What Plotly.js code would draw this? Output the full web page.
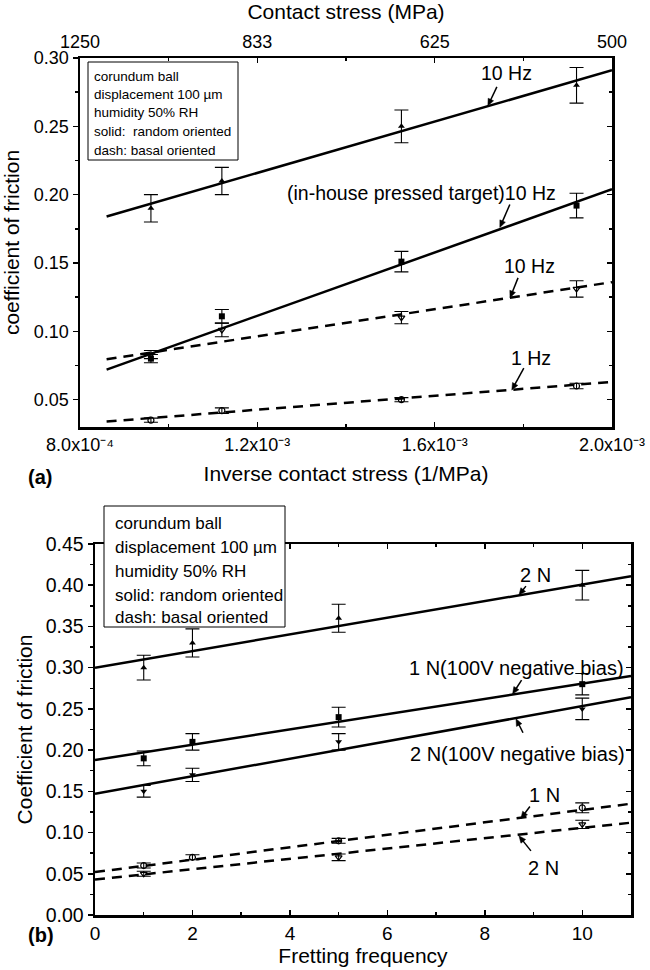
<!DOCTYPE html>
<html>
<head>
<meta charset="utf-8">
<script src="https://cdn.plot.ly/plotly-3.0.1.min.js"></script>
<style>html,body{margin:0;padding:0;background:#fff;}#chart{width:650px;height:970px;}</style>
</head>
<body>
<div id="chart"></div>
<script>
// ---------- Panel (a): inverse contact stress ----------
const invStress = [0.96e-3, 1.12e-3, 1.525e-3, 1.92e-3];
const random10Hz = [0.19, 0.21, 0.25, 0.28];
const random10HzErr = [0.01, 0.01, 0.012, 0.013];
const pressed10Hz = [0.08, 0.111, 0.151, 0.192];
const pressed10HzErr = [0.003, 0.005, 0.0075, 0.009];
const basal10Hz = [0.083, 0.101, 0.11, 0.131];
const basal10HzErr = [0.003, 0.005, 0.0045, 0.006];
const basal1Hz = [0.035, 0.042, 0.05, 0.06];
const basal1HzErr = [0.0015, 0.002, 0.0015, 0.002];
const fitInvX = [0.86e-3, 2.0e-3];
const fitRandom10Hz = [0.184, 0.291];
const fitPressed10Hz = [0.072, 0.204];
const fitBasal10Hz = [0.0795, 0.136];
const fitBasal1Hz = [0.034, 0.063];
const invTickVals = [8e-4, 1.2e-3, 1.6e-3, 2.0e-3];
const invTickText = ['8.0x10⁻⁴', '1.2x10⁻³', '1.6x10⁻³', '2.0x10⁻³'];
const stressTickText = ['1250', '833', '625', '500'];

// ---------- Panel (b): fretting frequency ----------
const freq = [1, 2, 5, 10];
const load2N = [0.30, 0.33, 0.36, 0.40];
const load2NErr = [0.015, 0.017, 0.017, 0.018];
const load1NBias = [0.19, 0.21, 0.24, 0.28];
const load1NBiasErr = [0.009, 0.01, 0.012, 0.013];
const load2NBias = [0.15, 0.17, 0.21, 0.25];
const load2NBiasErr = [0.007, 0.008, 0.01, 0.013];
const basal1N = [0.06, 0.07, 0.09, 0.13];
const basal1NErr = [0.003, 0.003, 0.003, 0.006];
const freqBasal2N = [1, 5, 10];
const basal2N = [0.05, 0.07, 0.11];
const basal2NErr = [0.003, 0.004, 0.005];
const fitFreqX = [0, 11];
const fit2N = [0.30, 0.411];
const fit1NBias = [0.188, 0.29];
const fit2NBias = [0.147, 0.264];
const fitBasal1N = [0.052, 0.135];
const fitBasal2N = [0.043, 0.112];

const legendLines = ['corundum ball', 'displacement 100 µm', 'humidity 50% RH', 'solid:&nbsp; random oriented', 'dash: basal oriented'];
const legendLinesB = ['corundum ball', 'displacement 100 µm', 'humidity 50% RH', 'solid: random oriented', 'dash: basal oriented'];

// ---------- helpers ----------
const FONT = '"Liberation Sans", Arial, Helvetica, sans-serif';
const W = 650, H = 970, ML = 80, MR = 19, MT = 58, MB = 55;
const PW = W - ML - MR, PH = H - MT - MB;
const px2x = p => (p - ML) / PW;
const py2y = p => (H - MB - p) / PH;

function pts(x, y, err, sym, xa, ya) {
  const open = sym.indexOf('open') >= 0;
  return {
    x: x, y: y, xaxis: xa, yaxis: ya, type: 'scatter', mode: 'markers', showlegend: false,
    marker: {symbol: sym, size: 6, color: 'black', line: {color: 'black', width: open ? 1.2 : 0}},
    error_y: {type: 'data', array: err, visible: true, color: 'black', thickness: 1.1, width: 7}
  };
}
function fit(x, y, dash, xa, ya) {
  return {x: x, y: y, xaxis: xa, yaxis: ya, type: 'scatter', mode: 'lines', showlegend: false,
    line: {color: 'black', width: 2.5, dash: dash ? '10px,7px' : 'solid'}};
}
function ghost(x, y, xa, ya) {
  return {x: x, y: y, xaxis: xa, yaxis: ya, type: 'scatter', mode: 'markers', showlegend: false,
    hoverinfo: 'skip', marker: {opacity: 0, size: 1}};
}

const traces = [
  fit(fitInvX, fitRandom10Hz, false, 'x', 'y'),
  fit(fitInvX, fitPressed10Hz, false, 'x', 'y'),
  fit(fitInvX, fitBasal10Hz, true, 'x', 'y'),
  fit(fitInvX, fitBasal1Hz, true, 'x', 'y'),
  pts(invStress, random10Hz, random10HzErr, 'triangle-up', 'x', 'y'),
  pts(invStress, pressed10Hz, pressed10HzErr, 'square', 'x', 'y'),
  pts(invStress, basal10Hz, basal10HzErr, 'triangle-down-open', 'x', 'y'),
  pts(invStress, basal1Hz, basal1HzErr, 'circle-open', 'x', 'y'),
  ghost(fitInvX, fitRandom10Hz, 'x3', 'y'),
  ghost(fitInvX, fitRandom10Hz, 'x', 'y3'),

  fit(fitFreqX, fit2N, false, 'x2', 'y2'),
  fit(fitFreqX, fit1NBias, false, 'x2', 'y2'),
  fit(fitFreqX, fit2NBias, false, 'x2', 'y2'),
  fit(fitFreqX, fitBasal1N, true, 'x2', 'y2'),
  fit(fitFreqX, fitBasal2N, true, 'x2', 'y2'),
  pts(freq, load2N, load2NErr, 'triangle-up', 'x2', 'y2'),
  pts(freq, load1NBias, load1NBiasErr, 'square', 'x2', 'y2'),
  pts(freq, load2NBias, load2NBiasErr, 'triangle-down', 'x2', 'y2'),
  pts(freq, basal1N, basal1NErr, 'circle-open', 'x2', 'y2'),
  pts(freqBasal2N, basal2N, basal2NErr, 'triangle-down-open', 'x2', 'y2'),
  ghost(fitFreqX, fit2N, 'x2', 'y4')
];

const axBase = {showgrid: false, zeroline: false, showline: true, linecolor: 'black', linewidth: 2.5,
  ticklen: 5, tickwidth: 1.5, tickcolor: 'black', automargin: false,
  tickfont: {family: FONT, size: 18, color: 'black'}};
const TITLEFONT = {family: FONT, size: 21, color: 'black'};

const TOPX = [0, 532 / PW], BOTX = [15 / PW, 1];
const TOPY = [py2y(427), 1], BOTY = [0, py2y(544)];
const invRange = [8e-4, 2.0e-3];
const minorInv = {tickvals: [1.0e-3, 1.4e-3, 1.8e-3], ticks: 'inside', ticklen: 3, tickcolor: 'black'};

const layout = {
  width: W, height: H, margin: {l: ML, r: MR, t: MT, b: MB},
  paper_bgcolor: 'white', plot_bgcolor: 'white',
  font: {family: FONT, color: 'black'},
  showlegend: false,
  xaxis: Object.assign({}, axBase, {domain: TOPX, anchor: 'y', range: invRange, ticks: 'inside',
    tickvals: invTickVals, ticktext: invTickText, minor: minorInv,
    title: {text: 'Inverse contact stress (1/MPa)', font: TITLEFONT, standoff: 12}}),
  xaxis3: Object.assign({}, axBase, {overlaying: 'x', anchor: 'y', side: 'top', range: invRange, ticks: 'inside',
    tickvals: invTickVals, ticktext: stressTickText, minor: minorInv,
    title: {text: 'Contact stress (MPa)', font: TITLEFONT, standoff: 7}}),
  yaxis: Object.assign({}, axBase, {domain: TOPY, anchor: 'x', range: [0.03, 0.30], ticks: 'outside',
    dtick: 0.05, tick0: 0, tickformat: '.2f', mirror: true,
    minor: {dtick: 0.025, tick0: 0, ticks: 'outside', ticklen: 3, tickcolor: 'black'},
    title: {text: 'coefficient of friction', font: TITLEFONT, standoff: 9}}),
  yaxis3: Object.assign({}, axBase, {overlaying: 'y', anchor: 'x', side: 'right', range: [0.03, 0.30], ticks: 'inside',
    dtick: 0.05, tick0: 0, showticklabels: false,
    minor: {dtick: 0.025, tick0: 0, ticks: 'inside', ticklen: 3, tickcolor: 'black'}}),

  xaxis2: Object.assign({}, axBase, {domain: BOTX, anchor: 'y2', range: [0, 11], ticks: 'inside', dtick: 2, tick0: 0,
    mirror: 'ticks', tickfont: {family: FONT, size: 19, color: 'black'},
    minor: {dtick: 1, tick0: 0, ticks: 'inside', ticklen: 3, tickcolor: 'black'},
    title: {text: 'Fretting frequency', font: TITLEFONT, standoff: 0}}),
  yaxis2: Object.assign({}, axBase, {domain: BOTY, anchor: 'x2', range: [0, 0.45], ticks: 'outside',
    dtick: 0.05, tick0: 0, tickformat: '.2f', mirror: true, tickfont: {family: FONT, size: 19.5, color: 'black'},
    minor: {dtick: 0.025, tick0: 0, ticks: 'outside', ticklen: 3, tickcolor: 'black'},
    title: {text: 'Coefficient of friction', font: TITLEFONT, standoff: 8}}),
  yaxis4: Object.assign({}, axBase, {overlaying: 'y2', anchor: 'x2', side: 'right', range: [0, 0.45], ticks: 'inside',
    dtick: 0.05, tick0: 0, showticklabels: false,
    minor: {dtick: 0.025, tick0: 0, ticks: 'inside', ticklen: 3, tickcolor: 'black'}}),
  shapes: [],
  annotations: []
};

// legend boxes
function legendBox(x0, y0, x1, y1, tx, ys, lines, fs) {
  layout.shapes.push({type: 'rect', xref: 'paper', yref: 'paper', x0: px2x(x0), x1: px2x(x1), y0: py2y(y1), y1: py2y(y0),
    line: {color: 'black', width: 1}, fillcolor: 'white', layer: 'above'});
  lines.forEach((t, i) => layout.annotations.push({xref: 'paper', yref: 'paper', x: px2x(tx), y: py2y(ys[i]),
    xanchor: 'left', yanchor: 'middle', text: t, showarrow: false, font: {family: FONT, size: fs, color: 'black'}}));
}
legendBox(88, 62, 238, 160, 92, [76, 94.5, 113, 131.5, 150], legendLines, 13.5);
legendBox(104, 506, 285, 627, 113, [523, 547, 571, 595, 618], legendLinesB, 17);

function label(xa, ya, x, y, t, anchor, fs) {
  layout.annotations.push({xref: xa, yref: ya, x: x, y: y, text: t, showarrow: false, xanchor: anchor || 'center',
    yanchor: 'middle', font: {family: FONT, size: fs, color: 'black'}});
}
// arrow drawn as shapes: head at data (x, y); tail offset (dx, dy) in screen pixels (y down)
function arrow(xa, ya, x, y, dx, dy) {
  const tx = dx, ty = -dy;
  const len = Math.hypot(tx, ty), ux = -tx / len, uy = -ty / len;
  const L = 7, hw = 3;
  const bx = -ux * L, by = -uy * L, nx = -uy, ny = ux;
  const common = {xref: xa, yref: ya, xsizemode: 'pixel', ysizemode: 'pixel', xanchor: x, yanchor: y, layer: 'above'};
  layout.shapes.push(Object.assign({type: 'line', x0: tx, y0: ty, x1: bx * 0.6, y1: by * 0.6,
    line: {color: 'black', width: 1.5}}, common));
  layout.shapes.push(Object.assign({type: 'path',
    path: `M0,0 L${(bx + nx * hw).toFixed(2)},${(by + ny * hw).toFixed(2)} L${(bx - nx * hw).toFixed(2)},${(by - ny * hw).toFixed(2)} Z`,
    fillcolor: 'black', line: {color: 'black', width: 0.5}}, common));
}
label('x', 'y', 1.763e-3, 0.289, '10 Hz', 'center', 19.5);
arrow('x', 'y', 1.72e-3, 0.265, 9, -19);
label('x', 'y', 1.878e-3, 0.2012, '(in-house pressed target)10 Hz', 'right', 19.5);
arrow('x', 'y', 1.747e-3, 0.176, 10, -23);
label('x', 'y', 1.813e-3, 0.1478, '10 Hz', 'center', 19.5);
arrow('x', 'y', 1.77e-3, 0.1245, 8, -20);
label('x', 'y', 1.817e-3, 0.0805, '1 Hz', 'center', 19.5);
arrow('x', 'y', 1.774e-3, 0.057, 12, -22);

label('x2', 'y2', 9.03, 0.413, '2 N', 'center', 20);
arrow('x2', 'y2', 8.7, 0.388, 7, -9);
label('x2', 'y2', 10.89, 0.299, '1 N(100V negative bias)', 'right', 20);
arrow('x2', 'y2', 8.57, 0.268, 9, -14);
label('x2', 'y2', 10.92, 0.1953, '2 N(100V negative bias)', 'right', 20);
arrow('x2', 'y2', 8.64, 0.238, 7, 14);
label('x2', 'y2', 9.23, 0.145, '1 N', 'center', 20);
arrow('x2', 'y2', 8.74, 0.117, 9, -12);
label('x2', 'y2', 9.2, 0.057, '2 N', 'center', 20);
arrow('x2', 'y2', 8.7, 0.096, 12, 15);

layout.annotations.push({xref: 'paper', yref: 'paper', x: px2x(26), y: py2y(477), text: '<b>(a)</b>', showarrow: false,
  font: {family: FONT, size: 20, color: 'black'}});
layout.annotations.push({xref: 'paper', yref: 'paper', x: px2x(26), y: py2y(948), text: '<b>(b)</b>', showarrow: false,
  font: {family: FONT, size: 20, color: 'black'}});

Plotly.newPlot('chart', traces, layout, {staticPlot: true, displayModeBar: false});
</script>
</body>
</html>
